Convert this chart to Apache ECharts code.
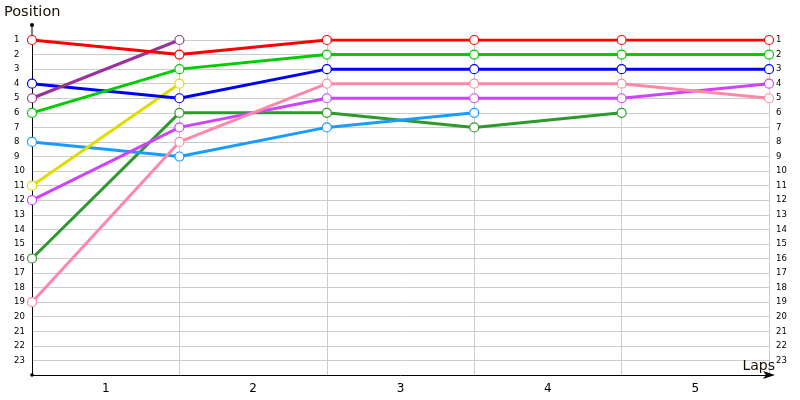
<!DOCTYPE html>
<html><head><meta charset="utf-8">
<script src="https://cdn.jsdelivr.net/npm/echarts@6/dist/echarts.min.js"></script>
<style>html,body{margin:0;padding:0;background:#fff}#c{width:800px;height:400px}</style>
</head><body><div id="c"></div>
<script>
var lapLabels = ['1','2','3','4','5'];
var positionTicks = 23;
var red      = [1, 2, 1, 1, 1, 1];
var purple   = [5, 1];
var green    = [6, 3, 2, 2, 2, 2];
var blue     = [4, 5, 3, 3, 3, 3];
var yellow   = [11, 4];
var skyblue  = [8, 9, 7, 6];
var magenta  = [12, 7, 5, 5, 5, 4];
var dkgreen  = [16, 6, 6, 7, 6];
var pink     = [19, 8, 4, 4, 4, 5];

var seriesDefs = [
  {name:'dkgreen', data:dkgreen, color:'#2e9a2e'},
  {name:'skyblue', data:skyblue, color:'#1a9cff'},
  {name:'magenta', data:magenta, color:'#cc44ff'},
  {name:'pink',    data:pink,    color:'#ff88aa'},
  {name:'yellow',  data:yellow,  color:'#dddd00'},
  {name:'blue',    data:blue,    color:'#0000ff'},
  {name:'green',   data:green,   color:'#00cc00'},
  {name:'purple',  data:purple,  color:'#993399'},
  {name:'red',     data:red,     color:'#ff0000'}
];

var chart = echarts.init(document.getElementById('c'), null, {renderer:'canvas'});
var FONT = 'DejaVu Sans';
var lblFmt = function(v){ return (v >= 1 && v <= positionTicks) ? String(v) : ''; };

var option = {
  animation:false,
  backgroundColor:'#fff',
  grid:{left:32, right:31, top:40, bottom:25, containLabel:false, outerBoundsMode:'none'},
  xAxis:[
    {type:'value', min:0, max:5, interval:1,
     axisLine:{show:true, lineStyle:{color:'#000', width:1}, symbol:['none','arrow'], symbolSize:[6,12], symbolOffset:[0,6]},
     axisTick:{show:false}, axisLabel:{show:false},
     splitLine:{show:true, lineStyle:{color:'#cccccc', width:1}}},
    {type:'category', data:lapLabels, boundaryGap:true, position:'bottom',
     axisLine:{show:false}, axisTick:{show:false},
     axisLabel:{fontFamily:FONT, fontSize:12, color:'#000', margin:8},
     splitLine:{show:false}}
  ],
  yAxis:[
    {type:'value', inverse:true, min:1, max:24, interval:1, position:'left',
     axisLine:{show:true, lineStyle:{color:'#000', width:1}},
     axisTick:{show:false},
     axisLabel:{formatter:lblFmt, fontFamily:FONT, fontSize:8.5, color:'#000', align:'left', margin:18},
     splitLine:{show:true, lineStyle:{color:'#cccccc', width:1}}},
    {type:'value', inverse:true, min:1, max:24, interval:1, position:'right',
     axisLine:{show:false}, axisTick:{show:false},
     axisLabel:{formatter:lblFmt, fontFamily:FONT, fontSize:8.5, color:'#000', align:'left', margin:7},
     splitLine:{show:false}}
  ],
  series: seriesDefs.map(function(s){
    return {
      name:s.name, type:'line', xAxisIndex:0, yAxisIndex:0,
      data:s.data.map(function(v,i){ return [i, v]; }),
      symbol:'circle', symbolSize:9, showAllSymbol:true,
      lineStyle:{color:s.color, width:3},
      itemStyle:{color:'#fff', borderColor:s.color, borderWidth:1.2},
      emphasis:{disabled:true}
    };
  })
};
chart.setOption(option);

var p0 = chart.convertToPixel({gridIndex:0}, [0, 1]);
var pb = chart.convertToPixel({gridIndex:0}, [0, 24]);
var pe = chart.convertToPixel({gridIndex:0}, [5, 24]);
chart.setOption({
  graphic:[
    {type:'line', shape:{x1:p0[0], y1:p0[1], x2:p0[0], y2:p0[1]-15}, style:{stroke:'#000', lineWidth:1}},
    {type:'circle', shape:{cx:p0[0], cy:p0[1]-15, r:2}, style:{fill:'#000'}},
    {type:'circle', shape:{cx:pb[0], cy:pb[1], r:1.8}, style:{fill:'#000'}},
    {type:'text', left:4, top:5, style:{text:'Position', fontFamily:FONT, fontSize:14.5, fill:'#1a1000'}},
    {type:'text', x:pe[0]+6, y:pe[1]-2, style:{text:'Laps', fontFamily:FONT, fontSize:14, fill:'#1a1000', align:'right', verticalAlign:'bottom'}}
  ]
});
</script></body></html>
